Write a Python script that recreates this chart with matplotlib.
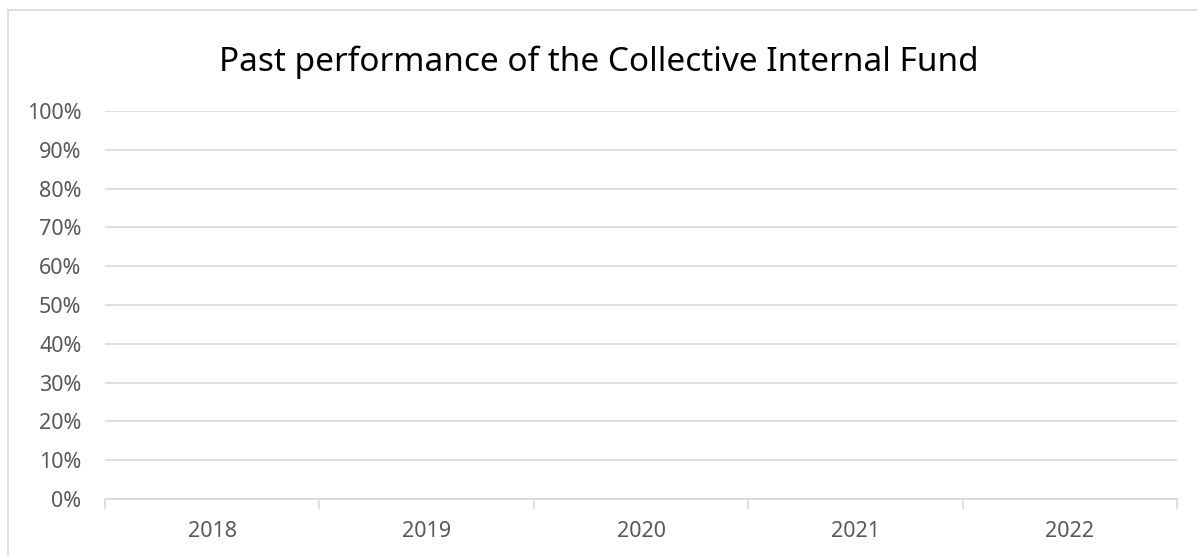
import matplotlib.pyplot as plt
from matplotlib.patches import Rectangle
from matplotlib.ticker import PercentFormatter, FixedLocator
import numpy as np

# Chart data (the reference chart has no visible values)
years = ["2018", "2019", "2020", "2021", "2022"]
fundReturns = [0, 0, 0, 0, 0]
yTicks = [0, 10, 20, 30, 40, 50, 60, 70, 80, 90, 100]

plt.rcParams['font.family'] = ['Noto Sans', 'DejaVu Sans']

fig = plt.figure(figsize=(11.97, 5.56), dpi=100)
ax = fig.add_axes([105 / 1197, 1 - 499 / 556, (1177 - 105) / 1197, (499 - 111) / 556])

# Outer chart border (only left and top visible in the crop)
fig.patches.append(Rectangle((8 / 1197, -0.1), 1.2, 1 - 10 / 556 + 0.1,
                             transform=fig.transFigure, fill=False,
                             edgecolor='#d9d9d9', linewidth=1.2))

x = np.arange(len(years))
ax.bar(x, fundReturns, width=0.6, color='#4472c4')

ax.set_xlim(-0.5, len(years) - 0.5)
ax.set_ylim(0, 100)
ax.set_yticks(yTicks)
ax.yaxis.set_major_formatter(PercentFormatter(decimals=0))
ax.set_xticks(x)
ax.set_xticklabels(years)
ax.xaxis.set_minor_locator(FixedLocator(np.arange(-0.5, len(years), 1)))

ax.grid(axis='y', color='#d9d9d9', linewidth=1.2)
ax.set_axisbelow(True)
for side in ['top', 'right', 'left']:
    ax.spines[side].set_visible(False)
ax.spines['bottom'].set_color('#d9d9d9')
ax.spines['bottom'].set_linewidth(1.2)

ax.tick_params(axis='y', length=0, pad=17, labelsize=15.5, labelcolor='#595959')
ax.tick_params(axis='x', which='major', length=0, pad=15.5, labelsize=15.5, labelcolor='#595959')
ax.tick_params(axis='x', which='minor', length=7, width=1.2, color='#d9d9d9')

fig.text(0.5, 1 - 62 / 556, "Past performance of the Collective Internal Fund",
         ha='center', va='center', fontsize=24, color='#000000')

fig.savefig("out.png", dpi=100)
